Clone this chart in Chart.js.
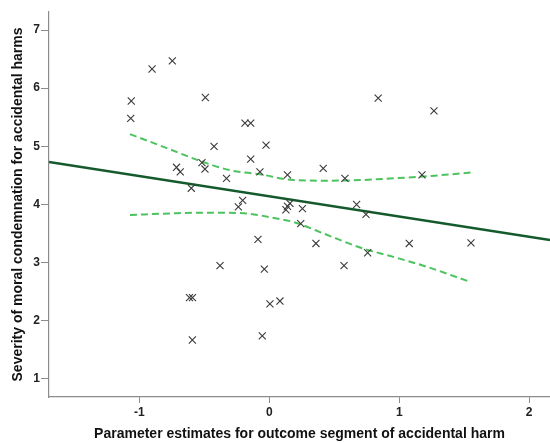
<!DOCTYPE html>
<html>
<head>
<meta charset="utf-8">
<script src="https://cdn.jsdelivr.net/npm/chart.js@4.4.1/dist/chart.umd.min.js"></script>
<style>
  html, body { margin: 0; padding: 0; background: #fff; }
  #wrap { width: 550px; height: 443px; position: relative; }
</style>
</head>
<body>
<div id="wrap"><canvas id="scatter"></canvas></div>
<script>
'use strict';

// ── Data ────────────────────────────────────────────────────────────────────
const pointsX = [-1.062, -1.066, -0.902, -0.746, -0.492, -0.187, -0.143, -0.425, -0.025, -0.143,
                 -0.714, -0.685, -0.518, -0.495, -0.329, -0.072, -0.600, -0.205, -0.238, 0.140,
                 0.415, 0.582, 1.175, 0.838, 1.267, 0.128, 0.159, 0.140, 0.255, 0.672,
                 0.744, 0.242, -0.087, 0.359, 0.757, 1.077, 1.552, -0.379, -0.038, 0.575,
                 -0.614, -0.591, 0.005, 0.082, -0.592, -0.054];
const pointsY = [5.78, 5.48, 6.33, 6.47, 5.84, 5.40, 5.40, 5.00, 5.02, 4.78,
                 4.64, 4.56, 4.72, 4.61, 4.45, 4.56, 4.28, 4.07, 3.96, 4.51,
                 4.62, 4.45, 4.51, 5.83, 5.61, 3.91, 4.02, 3.97, 3.93, 4.00,
                 3.83, 3.67, 3.40, 3.33, 3.17, 3.33, 3.34, 2.95, 2.89, 2.95,
                 2.40, 2.40, 2.29, 2.34, 1.67, 1.74];

// fitted line, read at the plot edges
const fitX = [-1.695, 2.16];
const fitY = [4.73, 3.39];

// 95% band
const upperX = [-1.072, -0.789, -0.533, -0.302, -0.072, 0.185, 0.442, 0.698, 0.954, 1.236, 1.557];
const upperY = [5.21, 4.97, 4.75, 4.59, 4.52, 4.42, 4.41, 4.42, 4.45, 4.49, 4.55];
const lowerX = [-1.072, -0.712, -0.456, -0.200, 0.057, 0.185, 0.442, 0.698, 0.954, 1.211, 1.544];
const lowerY = [3.82, 3.85, 3.86, 3.85, 3.76, 3.70, 3.48, 3.26, 3.10, 2.93, 2.67];

const xTicks = [-1, 0, 1, 2];
const yTicks = [1, 2, 3, 4, 5, 6, 7];
const xTitle = 'Parameter estimates for outcome segment of accidental harm';
const yTitle = 'Severity of moral condemnation for accidental harms';

// ── Helpers ─────────────────────────────────────────────────────────────────
const zip = (xs, ys) => xs.map((x, i) => ({ x, y: ys[i] }));
const AXIS = '#8c8c8c';
const tickFont = { family: 'Liberation Sans, Arial, sans-serif', size: 12, weight: 'bold' };
const titleFont = { family: 'Liberation Sans, Arial, sans-serif', size: 14, weight: 'bold' };

function bandLine(xs, ys) {
    return {
        type: 'line', data: zip(xs, ys),
        borderColor: '#4cc35e', borderWidth: 2, borderDash: [7, 4],
        pointRadius: 0, fill: false, cubicInterpolationMode: 'monotone', order: 2
    };
}

new Chart(document.getElementById('scatter').getContext('2d'), {
    type: 'scatter',
    data: {
        datasets: [
            {
                data: zip(pointsX, pointsY),
                pointStyle: 'crossRot', radius: 5, hoverRadius: 5,
                borderColor: '#3a3a3a', borderWidth: 1.1, backgroundColor: '#3a3a3a',
                order: 0
            },
            {
                type: 'line', data: zip(fitX, fitY),
                borderColor: '#145a2c', borderWidth: 2.6, pointRadius: 0, fill: false, order: 1
            },
            bandLine(upperX, upperY),
            bandLine(lowerX, lowerY)
        ]
    },
    options: {
        animation: false, responsive: true, maintainAspectRatio: false,
        layout: { autoPadding: false, padding: { top: 12, right: 0, left: 0, bottom: 0 } },
        plugins: { legend: { display: false }, tooltip: { enabled: false } },
        scales: {
            x: {
                type: 'linear', min: -1.695, max: 2.16,
                afterBuildTicks: s => { s.ticks = xTicks.map(v => ({ value: v })); },
                afterFit: s => { s.height = 46; s.paddingLeft = 0; s.paddingRight = 0; },
                border: { color: AXIS, width: 1.2 },
                grid: { drawOnChartArea: false, drawTicks: true, tickLength: 6, color: AXIS },
                ticks: { color: '#222', font: tickFont, padding: 2, maxRotation: 0 },
                title: { display: true, text: xTitle, color: '#111', font: titleFont, padding: { top: 0, bottom: 0 } }
            },
            y: {
                type: 'linear', min: 0.69, max: 7.31,
                afterBuildTicks: s => { s.ticks = yTicks.map(v => ({ value: v })); },
                afterFit: s => { s.width = 49; s.paddingTop = 0; s.paddingBottom = 0; },
                border: { color: AXIS, width: 1.2 },
                grid: { drawOnChartArea: false, drawTicks: true, tickLength: 8, color: AXIS },
                ticks: { color: '#222', font: tickFont, padding: 1 },
                title: { display: true, text: yTitle, color: '#111', font: titleFont, padding: { top: 10, bottom: 0 } }
            }
        }
    }
});
</script>
</body>
</html>
